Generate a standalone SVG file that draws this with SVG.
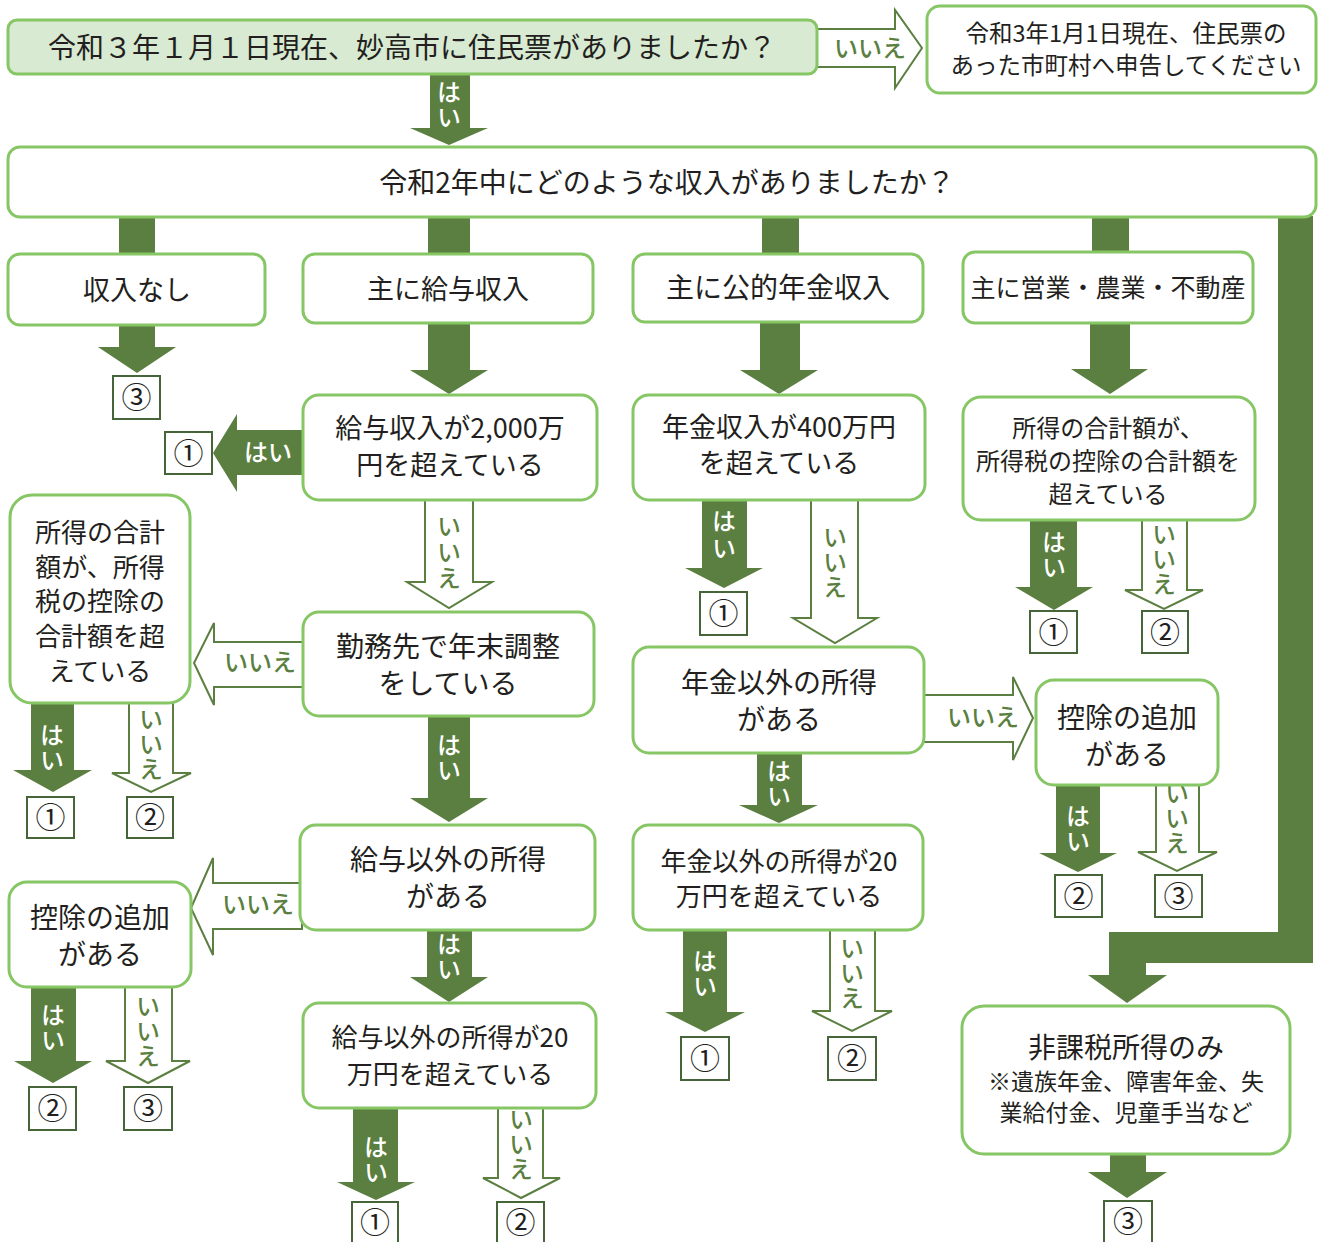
<svg xmlns="http://www.w3.org/2000/svg" width="1318" height="1242" viewBox="0 0 1318 1242">
<style>
.box{fill:#fff;stroke:#86c665;stroke-width:3}
.top{fill:#d8ead2;stroke:#86c665;stroke-width:3}
.t{font-family:"Noto Sans CJK JP","Noto Sans",sans-serif;fill:#231f20;text-anchor:middle}
.fa{fill:#5b7f40}
.oa{fill:#fff;stroke:#5b7f40;stroke-width:2;stroke-linejoin:miter}
.lw{font-family:"Noto Sans CJK JP","Noto Sans",sans-serif;fill:#fff;text-anchor:middle;font-size:24px;font-weight:500}
.lg{font-family:"Noto Sans CJK JP","Noto Sans",sans-serif;fill:#5b7f40;text-anchor:middle;font-size:24px;font-weight:500}
.v{writing-mode:vertical-rl;letter-spacing:1px}
.nb{fill:#fff;stroke:#46663a;stroke-width:2}
.n{font-family:"Noto Sans CJK JP","Noto Sans",sans-serif;fill:#231f20;text-anchor:middle;font-size:30px}
</style>
<rect width="1318" height="1242" fill="#fff"/>
<g id="connectors">
  <polygon class="oa" points="812,29 895,29 895,10 922,48 895,88 895,67 812,67"/>
  <text class="lg" x="870" y="57">いいえ</text>
  <polygon class="fa" points="430,74 470,74 470,128 488,128 449,145 410,128 430,128"/>
  <text class="lw v" x="449" y="105">はい</text>
  <rect class="fa" x="119" y="216" width="36" height="39"/>
  <rect class="fa" x="428" y="216" width="42" height="39"/>
  <rect class="fa" x="762" y="216" width="37" height="39"/>
  <rect class="fa" x="1092" y="216" width="37" height="38"/>
  <polygon class="fa" points="1278,216 1313,216 1313,963 1146,963 1146,975 1167,975 1127,1003 1088,975 1109,975 1109,932 1278,932"/>
  <polygon class="fa" points="119,324 155,324 155,347 176,347 137,373 98,347 119,347"/>
  <polygon class="fa" points="428,322 470,322 470,370 488,370 449,394 410,370 428,370"/>
  <polygon class="fa" points="760,321 800,321 800,370 818,370 779,394 740,370 760,370"/>
  <polygon class="fa" points="1090,322 1130,322 1130,369 1148,369 1110,394 1071,369 1090,369"/>
  <polygon class="fa" points="305,430 237,430 237,414 213,453 237,492 237,475 305,475"/>
  <text class="lw" x="268" y="461">はい</text>
  <polygon class="oa" points="425,498 473,498 473,582 492,582 449,608 407,582 425,582"/>
  <text class="lg v" x="449" y="553" style="letter-spacing:2px">いいえ</text>
  <polygon class="oa" points="305,642 214,642 214,623 194,663 214,705 214,687 305,687"/>
  <text class="lg" x="260" y="671">いいえ</text>
  <polygon class="fa" points="428,715 470,715 470,798 488,798 449,822 410,798 428,798"/>
  <text class="lw v" x="449" y="758">はい</text>
  <polygon class="fa" points="31,701 74,701 74,770 92,770 53,792 13,770 31,770"/>
  <text class="lw v" x="52" y="748">はい</text>
  <polygon class="oa" points="129,701 173,701 173,773 191,773 151,792 112,773 129,773"/>
  <text class="lg v" x="151" y="744">いいえ</text>
  <polygon class="oa" points="302,883 213,883 213,858 191,908 213,955 213,929 302,929"/>
  <text class="lg" x="258" y="913">いいえ</text>
  <polygon class="fa" points="427,928 472,928 472,977 488,977 449,1002 410,977 427,977"/>
  <text class="lw v" x="449" y="957">はい</text>
  <polygon class="fa" points="353,1106 398,1106 398,1182 415,1182 376,1200 337,1182 353,1182"/>
  <text class="lw v" x="376" y="1160">はい</text>
  <polygon class="oa" points="498,1106 543,1106 543,1178 560,1178 521,1198 483,1178 498,1178"/>
  <text class="lg v" x="521" y="1144">いいえ</text>
  <polygon class="fa" points="31,985 76,985 76,1061 92,1061 53,1083 14,1061 31,1061"/>
  <text class="lw v" x="53" y="1028">はい</text>
  <polygon class="oa" points="125,985 172,985 172,1061 190,1061 148,1083 106,1061 125,1061"/>
  <text class="lg v" x="148" y="1031">いいえ</text>
  <polygon class="fa" points="702,498 747,498 747,568 763,568 724,588 685,568 702,568"/>
  <text class="lw v" x="724" y="536" style="letter-spacing:3px">はい</text>
  <polygon class="oa" points="811,498 858,498 858,618 877,618 835,643 793,618 811,618"/>
  <text class="lg v" x="835" y="562">いいえ</text>
  <polygon class="oa" points="922,695 1013,695 1013,677 1033,718 1013,760 1013,742 922,742"/>
  <text class="lg" x="983" y="726">いいえ</text>
  <polygon class="fa" points="757,751 802,751 802,805 818,805 779,823 739,805 757,805"/>
  <text class="lw v" x="779" y="784">はい</text>
  <polygon class="fa" points="683,928 727,928 727,1012 745,1012 705,1032 665,1012 683,1012"/>
  <text class="lw v" x="705" y="974">はい</text>
  <polygon class="oa" points="830,928 875,928 875,1011 892,1011 852,1031 812,1011 830,1011"/>
  <text class="lg v" x="852" y="973">いいえ</text>
  <polygon class="fa" points="1056,783 1100,783 1100,853 1117,853 1078,872 1039,853 1056,853"/>
  <text class="lw v" x="1078" y="829">はい</text>
  <polygon class="oa" points="1156,783 1199,783 1199,852 1217,852 1177,871 1138,852 1156,852"/>
  <text class="lg v" x="1177" y="818">いいえ</text>
  <polygon class="fa" points="1030,518 1077,518 1077,587 1093,587 1054,610 1015,587 1030,587"/>
  <text class="lw v" x="1054" y="555">はい</text>
  <polygon class="oa" points="1142,518 1187,518 1187,590 1203,590 1164,609 1125,590 1142,590"/>
  <text class="lg v" x="1164" y="559">いいえ</text>
  <polygon class="fa" points="1110,1152 1146,1152 1146,1172 1167,1172 1127,1198 1088,1172 1110,1172"/>
</g>
<g id="q1"><rect class="top" x="8" y="20" width="809" height="54" rx="9"/>
  <text class="t" x="412" y="58" font-size="28">令和３年１月１日現在、妙高市に住民票がありましたか？</text></g>
<g id="notice"><rect class="box" x="927" y="6" width="389" height="87" rx="13"/>
  <text class="t" font-size="23.5"><tspan x="1126" y="42">令和3年1月1日現在、住民票の</tspan><tspan x="1126" y="74">あった市町村へ申告してください</tspan></text></g>
<g id="q2"><rect class="box" x="8" y="147" width="1308" height="70" rx="12"/>
  <text class="t" x="667" y="193" font-size="28">令和2年中にどのような収入がありましたか？</text></g>
<g id="none"><rect class="box" x="8" y="254" width="257" height="71" rx="12"/>
  <text class="t" x="137" y="300" font-size="27">収入なし</text></g>
<g id="salary"><rect class="box" x="303" y="254" width="290" height="69" rx="12"/>
  <text class="t" x="448" y="299" font-size="27">主に給与収入</text></g>
<g id="pension"><rect class="box" x="633" y="254" width="290" height="68" rx="12"/>
  <text class="t" x="778" y="298" font-size="28">主に公的年金収入</text></g>
<g id="business"><rect class="box" x="963" y="252" width="290" height="71" rx="12"/>
  <text class="t" x="1108" y="297" font-size="25">主に営業・農業・不動産</text></g>
<g id="r3"><rect class="nb" x="113" y="376" width="47" height="43"/><text class="n" x="136.5" y="408">③</text></g>
<g id="salary20m"><rect class="box" x="303" y="395" width="294" height="105" rx="16"/>
  <text class="t" font-size="27"><tspan x="450" y="438">給与収入が2,000万</tspan><tspan x="450" y="475">円を超えている</tspan></text></g>
<g id="r1a"><rect class="nb" x="165" y="432" width="47" height="42"/><text class="n" x="188.5" y="464">①</text></g>
<g id="pension400"><rect class="box" x="633" y="395" width="292" height="105" rx="16"/>
  <text class="t" font-size="27"><tspan x="779" y="437">年金収入が400万円</tspan><tspan x="779" y="473">を超えている</tspan></text></g>
<g id="r1b"><rect class="nb" x="700" y="592" width="47" height="43"/><text class="n" x="723.5" y="624">①</text></g>
<g id="bizIncome"><rect class="box" x="963" y="397" width="292" height="123" rx="18"/>
  <text class="t" font-size="24"><tspan x="1108" y="437">所得の合計額が、</tspan><tspan x="1108" y="470">所得税の控除の合計額を</tspan><tspan x="1108" y="503">超えている</tspan></text></g>
<g id="r1c"><rect class="nb" x="1030" y="611" width="47" height="42"/><text class="n" x="1053.5" y="643">①</text></g>
<g id="r2c"><rect class="nb" x="1142" y="611" width="46" height="42"/><text class="n" x="1165" y="643">②</text></g>
<g id="salIncome"><rect class="box" x="10" y="495" width="180" height="208" rx="22"/>
  <text class="t" font-size="26"><tspan x="100" y="542">所得の合計</tspan><tspan x="100" y="577">額が、所得</tspan><tspan x="100" y="611">税の控除の</tspan><tspan x="100" y="646">合計額を超</tspan><tspan x="100" y="681">えている</tspan></text></g>
<g id="r1d"><rect class="nb" x="27" y="797" width="47" height="41"/><text class="n" x="50.5" y="828">①</text></g>
<g id="r2d"><rect class="nb" x="127" y="797" width="46" height="41"/><text class="n" x="150" y="828">②</text></g>
<g id="yearEnd"><rect class="box" x="303" y="612" width="291" height="104" rx="16"/>
  <text class="t" font-size="28"><tspan x="448" y="657">勤務先で年末調整</tspan><tspan x="448" y="694">をしている</tspan></text></g>
<g id="pensionOther"><rect class="box" x="633" y="647" width="291" height="106" rx="16"/>
  <text class="t" font-size="28"><tspan x="779" y="693">年金以外の所得</tspan><tspan x="779" y="730">がある</tspan></text></g>
<g id="deductR"><rect class="box" x="1036" y="680" width="182" height="105" rx="18"/>
  <text class="t" font-size="28"><tspan x="1127" y="728">控除の追加</tspan><tspan x="1127" y="765">がある</tspan></text></g>
<g id="r2e"><rect class="nb" x="1055" y="875" width="47" height="42"/><text class="n" x="1078.5" y="907">②</text></g>
<g id="r3e"><rect class="nb" x="1155" y="875" width="47" height="42"/><text class="n" x="1178.5" y="907">③</text></g>
<g id="salOther"><rect class="box" x="300" y="825" width="295" height="105" rx="16"/>
  <text class="t" font-size="28"><tspan x="448" y="870">給与以外の所得</tspan><tspan x="448" y="907">がある</tspan></text></g>
<g id="pensionOther20"><rect class="box" x="633" y="825" width="290" height="105" rx="16"/>
  <text class="t" font-size="26"><tspan x="779" y="871">年金以外の所得が20</tspan><tspan x="779" y="906">万円を超えている</tspan></text></g>
<g id="r1f"><rect class="nb" x="681" y="1037" width="48" height="43"/><text class="n" x="705" y="1069">①</text></g>
<g id="r2f"><rect class="nb" x="828" y="1037" width="48" height="43"/><text class="n" x="852" y="1069">②</text></g>
<g id="deductL"><rect class="box" x="9" y="882" width="182" height="105" rx="18"/>
  <text class="t" font-size="28"><tspan x="100" y="928">控除の追加</tspan><tspan x="100" y="965">がある</tspan></text></g>
<g id="r2g"><rect class="nb" x="29" y="1087" width="47" height="43"/><text class="n" x="52.5" y="1119">②</text></g>
<g id="r3g"><rect class="nb" x="124" y="1087" width="48" height="43"/><text class="n" x="148" y="1119">③</text></g>
<g id="salOther20"><rect class="box" x="303" y="1003" width="293" height="105" rx="16"/>
  <text class="t" font-size="26"><tspan x="450" y="1047">給与以外の所得が20</tspan><tspan x="450" y="1084">万円を超えている</tspan></text></g>
<g id="r1h"><rect class="nb" x="352" y="1202" width="46" height="46"/><text class="n" x="375" y="1233">①</text></g>
<g id="r2h"><rect class="nb" x="497" y="1202" width="47" height="46"/><text class="n" x="520.5" y="1233">②</text></g>
<g id="nontax"><rect class="box" x="962" y="1006" width="328" height="148" rx="22"/>
  <text class="t" x="1126" y="1058" font-size="28">非課税所得のみ</text>
  <text class="t" font-size="23"><tspan x="1126" y="1090">※遺族年金、障害年金、失</tspan><tspan x="1126" y="1121">業給付金、児童手当など</tspan></text></g>
<g id="r3i"><rect class="nb" x="1104" y="1201" width="48" height="46"/><text class="n" x="1128" y="1232">③</text></g>
</svg>
